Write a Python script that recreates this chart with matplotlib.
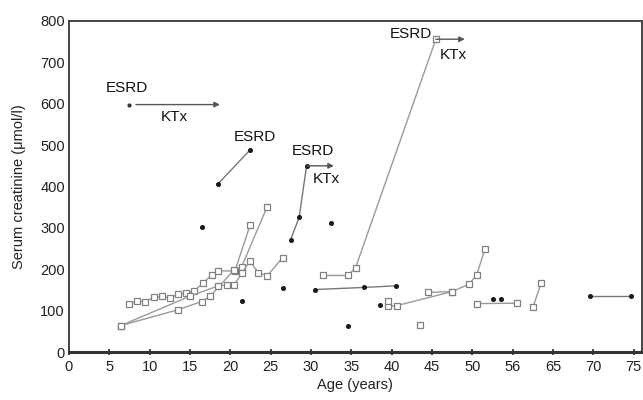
import matplotlib
matplotlib.use("Agg")
import matplotlib.pyplot as plt

plt.rcParams['font.family'] = ['Liberation Sans', 'DejaVu Sans']

# x tick positions and their (as printed) labels
xtick_pos = [0, 5, 10, 15, 20, 25, 30, 35, 40, 45, 50, 55, 60, 65, 70]
xtick_labels = ['0', '5', '10', '15', '20', '25', '30', '35', '40', '45', '50', '56', '65', '70', '75']
ytick_pos = [0, 100, 200, 300, 400, 500, 600, 700, 800]

# Square-marker series (hollow squares joined by grey lines)
s1_x = [7.43, 8.46, 9.45, 10.50, 11.49, 12.52, 13.51, 14.50, 15.53, 16.64, 17.68, 18.50, 20.57, 22.47]
s1_y = [116, 123, 122, 132, 135, 130, 140, 142, 148, 167, 186, 196, 196, 308]
s2_x = [6.44, 13.51, 16.44, 17.51, 20.45, 21.40, 24.57]
s2_y = [64, 102, 122, 135, 198, 206, 351]
s3_x = [6.44, 15.0, 18.50, 19.54, 20.48, 21.40, 22.43, 23.46, 24.57, 26.48]
s3_y = [64, 135, 160, 162, 162, 190, 220, 192, 184, 228]
s4_x = [31.51, 34.57, 35.53, 45.48]
s4_y = [185, 185, 204, 756]
s5_x = [39.57, 40.61, 47.50]
s5_y = [110, 112, 146]
s6_x = [44.52, 47.50, 49.57, 50.52, 51.59]
s6_y = [144, 146, 164, 185, 250]
s7_x = [50.60, 55.60]
s7_y = [117, 118]
s8_x = [57.53, 58.53]
s8_y = [109, 166]
sq_single_x = [39.57, 43.53]
sq_single_y = [124, 66]

# Black-dot series
b1_x = [30.48, 36.56, 40.52]
b1_y = [151, 156, 160]
b2_x = [64.56, 69.64]
b2_y = [135, 135]
b3_x = [27.47, 28.54, 29.45]
b3_y = [271, 326, 450]
b4_x = [18.46, 22.43]
b4_y = [406, 488]
dot_x = [16.52, 21.47, 26.48, 32.50, 34.57, 38.50, 52.54, 53.57]
dot_y = [302, 123, 154, 311, 64, 114, 128, 127]
esrd1_x = [7.43]
esrd1_y = [598]

# ESRD -> KTx arrows: (start x, end x, y)
arrow_start = [8.3, 29.45, 45.48]
arrow_end = [18.71, 32.84, 49.07]
arrow_y = [598, 450, 756]

# Text labels
label_text = ['ESRD', 'KTx', 'ESRD', 'ESRD', 'KTx', 'ESRD', 'KTx']
label_x = [7.2, 13.0, 23.05, 30.2, 31.85, 42.4, 47.6]
label_y = [637, 568, 520, 486, 419, 768, 719]

fig = plt.figure(figsize=(6.43, 4.0), dpi=100)
ax = fig.add_axes([0.1073, 0.12, 0.8907, 0.8275])

line_c = '#9a9a9a'
sq_kw = dict(color=line_c, lw=1.0, marker='s', ms=4.0, mfc='white', mec='#808080', mew=0.9)
for xs, ys in [(s1_x, s1_y), (s2_x, s2_y), (s3_x, s3_y), (s4_x, s4_y), (s5_x, s5_y),
               (s6_x, s6_y), (s7_x, s7_y), (s8_x, s8_y)]:
    ax.plot(xs, ys, **sq_kw)
ax.plot(sq_single_x, sq_single_y, ls='none', marker='s', ms=4.0, mfc='white', mec='#808080', mew=0.9)

dot_kw = dict(color='#777777', lw=1.0, marker='o', ms=2.6, mfc='#1a1a1a', mec='#1a1a1a')
for xs, ys in [(b1_x, b1_y), (b2_x, b2_y), (b3_x, b3_y), (b4_x, b4_y)]:
    ax.plot(xs, ys, **dot_kw)
ax.plot(dot_x, dot_y, ls='none', marker='o', ms=2.6, mfc='#1a1a1a', mec='#1a1a1a')
ax.plot(esrd1_x, esrd1_y, ls='none', marker='o', ms=2.0, mfc='#333333', mec='#333333')

for xs, xe, y in zip(arrow_start, arrow_end, arrow_y):
    ax.annotate('', xy=(xe, y), xytext=(xs, y),
                arrowprops=dict(arrowstyle='-|>', color='#555555', lw=1.0,
                                mutation_scale=8, shrinkA=0, shrinkB=0))

for t, x, y in zip(label_text, label_x, label_y):
    ax.text(x, y, t, ha='center', va='center', fontsize=11, color='#111111')

ax.set_xlim(0, 71)
ax.set_ylim(0, 800)
ax.set_xticks(xtick_pos)
ax.set_xticklabels(xtick_labels)
ax.set_yticks(ytick_pos)
ax.tick_params(axis='x', direction='inout', length=5, width=1.2, labelsize=10.5, pad=3, colors='#222222')
ax.tick_params(axis='y', direction='in', length=0, labelsize=10.5, pad=3, colors='#222222')
for side in ['top', 'right', 'left']:
    ax.spines[side].set_linewidth(1.4)
    ax.spines[side].set_color('#444444')
ax.spines['bottom'].set_linewidth(2.2)
ax.spines['bottom'].set_color('#333333')

ax.set_xlabel('Age (years)', fontsize=10.5, labelpad=3, color='#222222')
ax.set_ylabel('Serum creatinine (μmol/l)', fontsize=10.5, labelpad=10, color='#222222')

fig.savefig('out.png', dpi=100)
